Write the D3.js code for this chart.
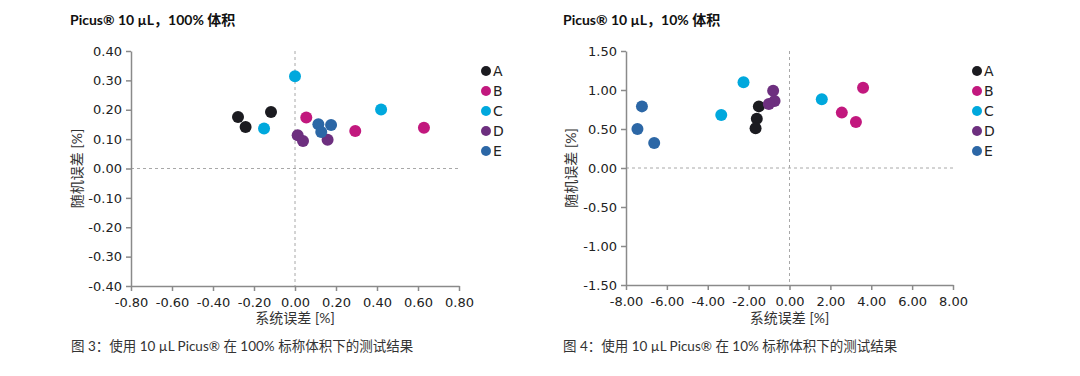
<!DOCTYPE html>
<html><head><meta charset="utf-8">
<script src="https://cdn.jsdelivr.net/npm/d3@7"></script>
<style>
body{margin:0;background:#fff;}
svg{display:block;}
</style></head>
<body>
<svg id="c" width="1080" height="376"></svg>
<script>
const groups = ["A","B","C","D","E"];
const groupColors = ["#1b1b20","#c2187e","#00a8dd","#6d2f7f","#2c67a6"];

// Chart 1: 100% volume
const c1Title = "Picus® 10 µL，100% 体积";
const c1Caption = "图 3：使用 10 µL Picus® 在 100% 标称体积下的测试结果";
const c1XTicks = [-0.8,-0.6,-0.4,-0.2,0,0.2,0.4,0.6,0.8];
const c1YTicks = [-0.4,-0.3,-0.2,-0.1,0,0.1,0.2,0.3,0.4];
const c1SysErr = [
  [-0.278,-0.241,-0.117],
  [0.055,0.294,0.629],
  [0.0,-0.151,0.42],
  [0.013,0.039,0.159],
  [0.114,0.128,0.176]
];
const c1RandErr = [
  [0.175,0.141,0.192],
  [0.174,0.128,0.139],
  [0.314,0.136,0.201],
  [0.113,0.094,0.098],
  [0.151,0.124,0.148]
];

// Chart 2: 10% volume
const c2Title = "Picus® 10 µL，10% 体积";
const c2Caption = "图 4：使用 10 µL Picus® 在 10% 标称体积下的测试结果";
const c2XTicks = [-8,-6,-4,-2,0,2,4,6,8];
const c2YTicks = [-1.5,-1.0,-0.5,0,0.5,1.0,1.5];
const c2SysErr = [
  [-1.50,-1.60,-1.66],
  [3.60,2.56,3.25],
  [-3.34,-2.25,1.58],
  [-0.80,-0.73,-1.01],
  [-7.44,-7.22,-6.62]
];
const c2RandErr = [
  [0.79,0.63,0.51],
  [1.03,0.71,0.59],
  [0.68,1.10,0.88],
  [0.99,0.86,0.82],
  [0.50,0.79,0.32]
];

const xLabel = "系统误差 [%]";
const yLabel = "随机误差 [%]";

const svg = d3.select("#c");
const FONT = "'DejaVu Sans','Noto Sans CJK SC',sans-serif";
const CJK = "Lato,'Noto Sans CJK SC',sans-serif";

function drawChart(o){
  const g = svg.append("g");
  const x = d3.scaleLinear().domain([o.xTicks[0], o.xTicks[o.xTicks.length-1]]).range([o.x0, o.x1]);
  const y = d3.scaleLinear().domain([o.yTicks[0], o.yTicks[o.yTicks.length-1]]).range([o.y1, o.y0]);
  const fmt = d => d.toFixed(2);

  // title
  g.append("text").attr("x", o.titleX).attr("y", 25).text(o.title)
    .attr("font-family", CJK).attr("font-weight", "bold").attr("font-size", 14).attr("fill", "#111");

  // zero lines
  g.append("line").attr("x1", o.x0).attr("x2", o.x1).attr("y1", y(0)).attr("y2", y(0))
    .attr("stroke", "#a8a8a8").attr("stroke-width", 1).attr("stroke-dasharray", "3,3");
  g.append("line").attr("x1", x(0)).attr("x2", x(0)).attr("y1", o.y0).attr("y2", o.y1)
    .attr("stroke", "#a8a8a8").attr("stroke-width", 1).attr("stroke-dasharray", "3,3");

  // axes
  const ya = g.append("g").attr("transform", `translate(${o.x0},0)`)
    .call(d3.axisLeft(y).tickValues(o.yTicks).tickFormat(fmt).tickSize(5).tickPadding(4).tickSizeOuter(0));
  const xa = g.append("g").attr("transform", `translate(0,${o.y1})`)
    .call(d3.axisBottom(x).tickValues(o.xTicks).tickFormat(fmt).tickSize(5).tickPadding(7).tickSizeOuter(0));
  [ya, xa].forEach(a => {
    a.selectAll("path,line").attr("stroke", "#8a8a8a").attr("stroke-width", 1.5);
    a.selectAll("text").attr("font-family", FONT).attr("font-size", 13).attr("fill", "#222");
  });

  // axis titles
  g.append("text").attr("x", (o.x0 + o.x1) / 2).attr("y", 323).attr("text-anchor", "middle")
    .text(xLabel).attr("font-family", CJK).attr("font-size", 14).attr("fill", "#333");
  g.append("text").attr("transform", `translate(${o.yLabelX},${(o.y0 + o.y1) / 2}) rotate(-90)`)
    .attr("text-anchor", "middle").text(yLabel).attr("font-family", CJK).attr("font-size", 14).attr("fill", "#333");

  // points
  groups.forEach((gr, i) => {
    o.sys[i].forEach((v, j) => {
      g.append("circle").attr("cx", x(v)).attr("cy", y(o.rand[i][j])).attr("r", 6)
        .attr("fill", groupColors[i]);
    });
  });

  // legend
  groups.forEach((gr, i) => {
    const ly = 71 + i * 20;
    g.append("circle").attr("cx", o.legX).attr("cy", ly).attr("r", 5).attr("fill", groupColors[i]);
    g.append("text").attr("x", o.legX + 7).attr("y", ly + 5).text(gr)
      .attr("font-family", FONT).attr("font-size", 14).attr("fill", "#222");
  });

  // caption
  g.append("text").attr("x", o.captionX).attr("y", 351).text(o.caption)
    .attr("font-family", CJK).attr("font-size", 13.5).attr("fill", "#333");
}

drawChart({title: c1Title, caption: c1Caption, xTicks: c1XTicks, yTicks: c1YTicks,
  sys: c1SysErr, rand: c1RandErr, x0: 131, x1: 459, y0: 51, y1: 286,
  titleX: 70, captionX: 71, yLabelX: 82, legX: 486});
drawChart({title: c2Title, caption: c2Caption, xTicks: c2XTicks, yTicks: c2YTicks,
  sys: c2SysErr, rand: c2RandErr, x0: 626, x1: 953, y0: 51, y1: 285,
  titleX: 563, captionX: 563, yLabelX: 576, legX: 977});
</script>
</body></html>
